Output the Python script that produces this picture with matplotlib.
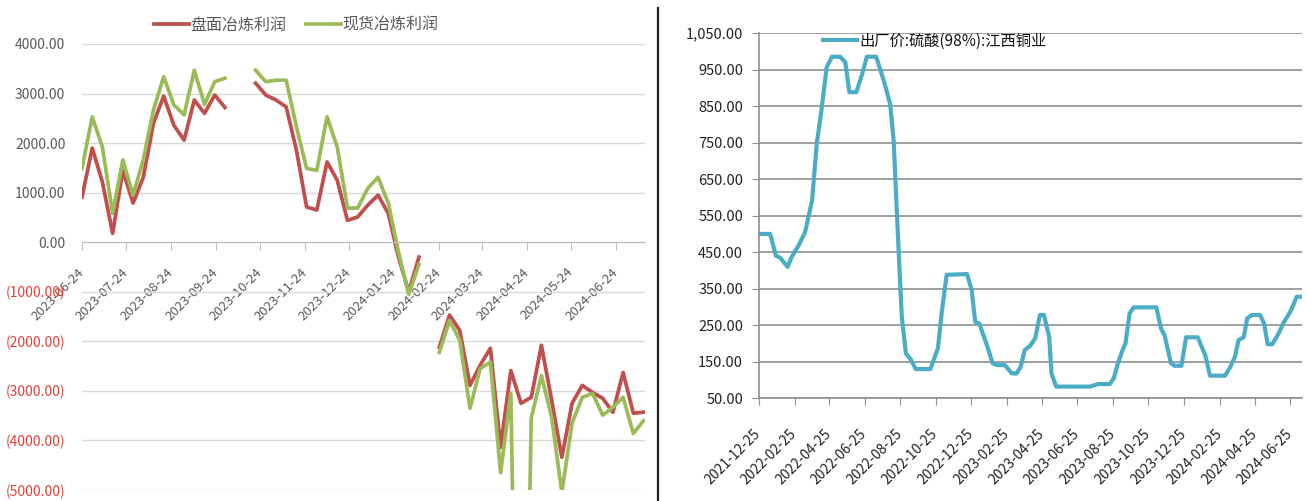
import numpy as np
import pandas as pd
import matplotlib
matplotlib.use("Agg")
from matplotlib import pyplot as plt
import matplotlib.dates as mdates
from matplotlib.lines import Line2D
from matplotlib.ticker import FuncFormatter

plt.rcParams['font.family'] = ['Noto Sans CJK SC', 'DejaVu Sans']

# left chart: weekly smelting profit (yuan/t)
week_dates = pd.date_range('2023-06-24', periods=56, freq='7D')
panmian_profit = [910, 1900, 1210, 180, 1450, 790, 1310, 2400, 2950, 2360,
                  2060, 2870, 2600, 2970, 2720, np.nan, np.nan, 3210, 2970, 2870,
                  2730, 1860, 710, 650, 1620, 1250, 440, 510, 750, 950,
                  580, -300, -1000, -300, np.nan, -2120, -1470, -1780, -2890, -2480,
                  -2140, -4140, -2590, -3250, -3130, -2080, -3190, -4340, -3250, -2890,
                  -3030, -3150, -3430, -2630, -3450, -3430]
xianhuo_profit = [1490, 2530, 1920, 580, 1660, 950, 1660, 2670, 3340, 2770,
                  2570, 3470, 2780, 3240, 3310, np.nan, np.nan, 3470, 3240, 3270,
                  3270, 2330, 1490, 1450, 2530, 1920, 690, 690, 1090, 1310,
                  790, -200, -1050, -450, np.nan, -2220, -1580, -1980, -3350, -2550,
                  -2420, -4650, -3050, -15000, -3550, -2690, -3530, -5050, -3650, -3130,
                  -3050, -3490, -3330, -3130, -3860, -3600]
left_ticks = pd.date_range('2023-06-01', periods=13, freq='MS') + pd.Timedelta(days=23)

# right chart: sulphuric acid ex-factory price
acid_dates = ['2021-12-25', '2022-01-14', '2022-01-24', '2022-01-31', '2022-02-13',
              '2022-02-20', '2022-03-04', '2022-03-15', '2022-03-27', '2022-04-04',
              '2022-04-12', '2022-04-21', '2022-04-30', '2022-05-14', '2022-05-23',
              '2022-05-30', '2022-06-11', '2022-06-21', '2022-06-29', '2022-07-15',
              '2022-07-28', '2022-08-08', '2022-08-14', '2022-08-22', '2022-08-28',
              '2022-09-04', '2022-09-13', '2022-09-21', '2022-10-16', '2022-10-29',
              '2022-11-05', '2022-11-13', '2022-12-18', '2022-12-26', '2023-01-01',
              '2023-01-08', '2023-01-21', '2023-01-31', '2023-02-07', '2023-02-21',
              '2023-03-05', '2023-03-13', '2023-03-20', '2023-03-27', '2023-04-05',
              '2023-04-14', '2023-04-22', '2023-04-29', '2023-05-08', '2023-05-12',
              '2023-05-20', '2023-07-17', '2023-07-31', '2023-08-20', '2023-08-27',
              '2023-09-03', '2023-09-11', '2023-09-16', '2023-09-23', '2023-09-30',
              '2023-11-08', '2023-11-16', '2023-11-22', '2023-12-03', '2023-12-09',
              '2023-12-21', '2023-12-29', '2024-01-18', '2024-01-31', '2024-02-08',
              '2024-03-05', '2024-03-14', '2024-03-22', '2024-03-28', '2024-04-06',
              '2024-04-12', '2024-04-20', '2024-05-04', '2024-05-11', '2024-05-17',
              '2024-05-25', '2024-06-05', '2024-06-14', '2024-06-25', '2024-07-06',
              '2024-07-12']
acid_price = [500, 500, 440, 435, 410, 437, 469, 505, 592, 747,
              838, 956, 985, 985, 970, 888, 888, 938, 985, 985,
              920, 856, 756, 473, 273, 173, 155, 130, 130, 187,
              291, 388, 390, 346, 259, 255, 196, 146, 141, 141,
              118, 118, 136, 182, 193, 214, 278, 278, 218, 118,
              82, 82, 89, 89, 105, 146, 182, 200, 282, 299,
              299, 241, 223, 146, 139, 139, 217, 217, 168, 112,
              112, 136, 164, 209, 217, 269, 278, 278, 255, 198,
              198, 228, 259, 287, 328, 328]
right_ticks = pd.date_range('2021-12-01', periods=16, freq='2MS') + pd.Timedelta(days=24)

red = '#c0504d'
green = '#9bbb59'
teal = '#4bacc6'

fig = plt.figure(figsize=(13.07, 5.01), dpi=100)

# ---------------- left chart
ax1 = fig.add_axes([82 / 1307, 11 / 501, 563 / 1307, 446 / 501])
ax1.plot(week_dates, panmian_profit, color=red, lw=2.7, label='盘面冶炼利润',
         solid_joinstyle='round')
ax1.plot(week_dates, xianhuo_profit, color=green, lw=2.7, label='现货冶炼利润',
         solid_joinstyle='round')
ax1.set_yticks(np.arange(-5000, 4001, 1000))
ax1.set_xticks(left_ticks)
ax1.set_ylim(-5000, 4000)
ax1.set_xlim(pd.Timestamp('2023-06-24'), pd.Timestamp('2024-07-14'))
ax1.yaxis.set_major_formatter(FuncFormatter(
    lambda v, p: f'{v:.2f}' if v >= 0 else f'({-v:.2f})'))
ax1.grid(axis='y', color='#d9d9d9', lw=1)
ax1.set_axisbelow(True)
for s in ['top', 'right', 'left']:
    ax1.spines[s].set_visible(False)
ax1.spines['bottom'].set_position(('data', 0))
ax1.spines['bottom'].set_color('#bfbfbf')
ax1.tick_params(axis='y', length=0, pad=12, labelsize=10)
ax1.xaxis.set_major_formatter(mdates.DateFormatter('%Y-%m-%d'))
ax1.tick_params(axis='x', direction='out', length=6, color='#bfbfbf',
                labelsize=9.5, labelcolor='#595959', pad=14)
for lab in ax1.get_xticklabels():
    lab.set_rotation(45)
    lab.set_ha('right')
    lab.set_va('center')
    lab.set_rotation_mode('anchor')
for lab, v in zip(ax1.get_yticklabels(), ax1.get_yticks()):
    lab.set_color('#595959' if v >= 0 else '#e0403a')
ax1.legend(loc='center', bbox_to_anchor=(296 / 1307, 1 - 25 / 501),
           bbox_transform=fig.transFigure, ncol=2, frameon=False,
           fontsize=11.5, handlelength=2.2, columnspacing=1.2,
           handletextpad=0.1, labelcolor='#595959')

# ---------------- right chart
ax2 = fig.add_axes([758.5 / 1307, (501 - 398.3) / 501, 543.5 / 1307, 365.3 / 501])
ax2.plot(pd.to_datetime(acid_dates), acid_price, color=teal, lw=3.0,
         label='出厂价:硫酸(98%):江西铜业', solid_joinstyle='round')
ax2.set_yticks(np.arange(50, 1051, 100))
ax2.set_xticks(right_ticks)
ax2.set_ylim(50, 1050)
ax2.set_xlim(pd.Timestamp('2021-12-25'), pd.Timestamp('2024-07-15'))
ax2.yaxis.set_major_formatter(FuncFormatter(lambda v, p: f'{v:,.2f}'))
ax2.grid(axis='y', color='#8f8f8f', lw=1.2)
ax2.set_axisbelow(True)
for s in ['top', 'right']:
    ax2.spines[s].set_visible(False)
for s in ['left', 'bottom']:
    ax2.spines[s].set_color('#8f8f8f')
    ax2.spines[s].set_linewidth(1.2)
ax2.tick_params(axis='y', direction='out', length=5, color='#8f8f8f',
                labelsize=10.5, labelcolor='#222222', pad=6)
ax2.xaxis.set_major_formatter(mdates.DateFormatter('%Y-%m-%d'))
ax2.tick_params(axis='x', direction='out', length=5, color='#8f8f8f',
                labelsize=10, labelcolor='#222222', pad=19)
for lab in ax2.get_xticklabels():
    lab.set_rotation(45)
    lab.set_ha('right')
    lab.set_va('center')
    lab.set_rotation_mode('anchor')
ax2.legend(loc='center', bbox_to_anchor=(935 / 1307, 1 - 41 / 501),
           bbox_transform=fig.transFigure, frameon=False, fontsize=11,
           handlelength=2.2, handletextpad=0.2, labelcolor='#111111')

# divider between the two panels
fig.add_artist(Line2D([658 / 1307, 658 / 1307], [0, 1 - 8 / 501],
                      transform=fig.transFigure, color='#222222', lw=1.6))

fig.savefig('out.png', dpi=100)
